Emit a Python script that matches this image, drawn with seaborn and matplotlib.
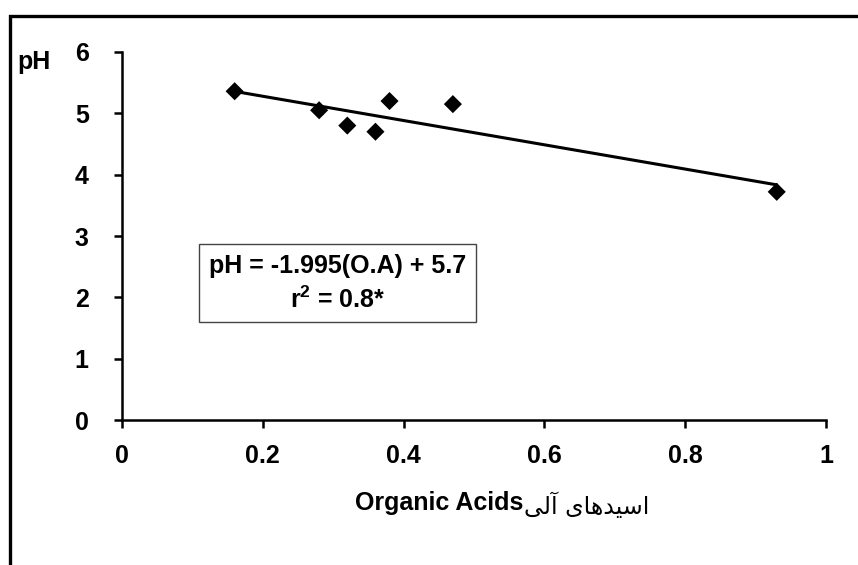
import matplotlib
matplotlib.use("Agg")
import pandas as pd
import seaborn as sns
import matplotlib.pyplot as plt
from matplotlib.patches import Rectangle

# datos
organic_acids = [0.16, 0.28, 0.32, 0.36, 0.38, 0.47, 0.93]
ph_values = [5.36, 5.05, 4.80, 4.70, 5.20, 5.15, 3.72]
x_ticks = [0, 0.2, 0.4, 0.6, 0.8, 1]
x_tick_labels = ["0", "0.2", "0.4", "0.6", "0.8", "1"]
y_ticks = [0, 1, 2, 3, 4, 5, 6]
equation_text = "pH = -1.995(O.A) + 5.7"
r2_text = "r$^{2}$ = 0.8*"
xlabel_en = "Organic Acids"
xlabel_fa = "اسیدهای آلی"
ylabel = "pH"

# formas de presentacion (aislada, final, inicial, medial)
FORMS = {
    'ا': ('\uFE8D', '\uFE8E', None, None),
    'آ': ('\uFE81', '\uFE82', None, None),
    'د': ('\uFEA9', '\uFEAA', None, None),
    'س': ('\uFEB1', '\uFEB2', '\uFEB3', '\uFEB4'),
    'ه': ('\uFEE9', '\uFEEA', '\uFEEB', '\uFEEC'),
    'ل': ('\uFEDD', '\uFEDE', '\uFEDF', '\uFEE0'),
    'ی': ('\uFBFC', '\uFBFD', '\uFBFE', '\uFBFF'),
}


def shape_persian(text):
    out = []
    for i, ch in enumerate(text):
        if ch not in FORMS:
            out.append(ch)
            continue
        prev = text[i - 1] if i > 0 else None
        nxt = text[i + 1] if i + 1 < len(text) else None
        joins_prev = prev in FORMS and FORMS[prev][2] is not None
        joins_next = nxt in FORMS and FORMS[ch][2] is not None
        iso, fin, ini, med = FORMS[ch]
        if joins_prev and joins_next:
            out.append(med)
        elif joins_prev:
            out.append(fin)
        elif joins_next:
            out.append(ini)
        else:
            out.append(iso)
    return "".join(reversed(out))


df = pd.DataFrame({"oa": organic_acids, "ph": ph_values})

sns.set_style("ticks")
plt.rcParams['font.family'] = ['Liberation Sans', 'DejaVu Sans']
plt.rcParams['font.weight'] = 'bold'
plt.rcParams['text.color'] = 'black'
plt.rcParams['xtick.color'] = 'black'
plt.rcParams['ytick.color'] = 'black'
plt.rcParams['mathtext.fontset'] = 'custom'
plt.rcParams['mathtext.rm'] = 'Liberation Sans:bold'
plt.rcParams['mathtext.bf'] = 'Liberation Sans:bold'
plt.rcParams['mathtext.default'] = 'bf'

fig = plt.figure(figsize=(8.58, 5.65), dpi=100)
ax = fig.add_axes([0.1422, 0.2566, 0.8205, 0.6514])

sns.regplot(data=df, x="oa", y="ph", ax=ax, ci=None, color="black",
            marker="D", scatter_kws={"s": 85, "edgecolor": "none", "alpha": 1},
            line_kws={"lw": 2.2})

ax.set_xlim(0, 1)
ax.set_ylim(0, 6)
ax.set_xticks(x_ticks)
ax.set_xticklabels(x_tick_labels)
ax.set_yticks(y_ticks)
ax.set_xlabel("")
ax.set_ylabel("")
for side in ["top", "right"]:
    ax.spines[side].set_visible(False)
for side in ["left", "bottom"]:
    ax.spines[side].set_linewidth(1.8)
    ax.spines[side].set_color("black")
ax.tick_params(axis="both", length=6, width=1.8, color="black",
               labelcolor="black", labelsize=18)
ax.tick_params(axis="x", pad=11)
ax.tick_params(axis="y", pad=18)
for lab in ax.get_xticklabels() + ax.get_yticklabels():
    lab.set_fontweight("bold")

# cuadro de la ecuacion
ax.text(0.306, 0.372, equation_text + "\n" + r2_text, transform=ax.transAxes,
        ha="center", va="center", fontsize=18, fontweight="bold",
        linespacing=1.4,
        bbox=dict(boxstyle="square,pad=0.38", facecolor="white",
                  edgecolor="#444444", lw=1))

# etiquetas
fig.text(34 / 858, 1 - 62 / 565, ylabel, ha="center", va="center",
         fontsize=18, fontweight="bold")
fig.text(523 / 858, 1 - 503 / 565, xlabel_en, ha="right", va="center",
         fontsize=18, fontweight="bold")
fig.text(524 / 858, 1 - 506 / 565, shape_persian(xlabel_fa), ha="left",
         va="center", fontsize=17, fontweight="normal", family=['DejaVu Sans'])

# marco exterior
fig.patches.append(Rectangle((10 / 858, -0.1), 1.2, 0.1 + 1 - 16 / 565,
                             transform=fig.transFigure, fill=False,
                             edgecolor="black", lw=2.4, clip_on=False))

fig.savefig("out.png", dpi=100)
